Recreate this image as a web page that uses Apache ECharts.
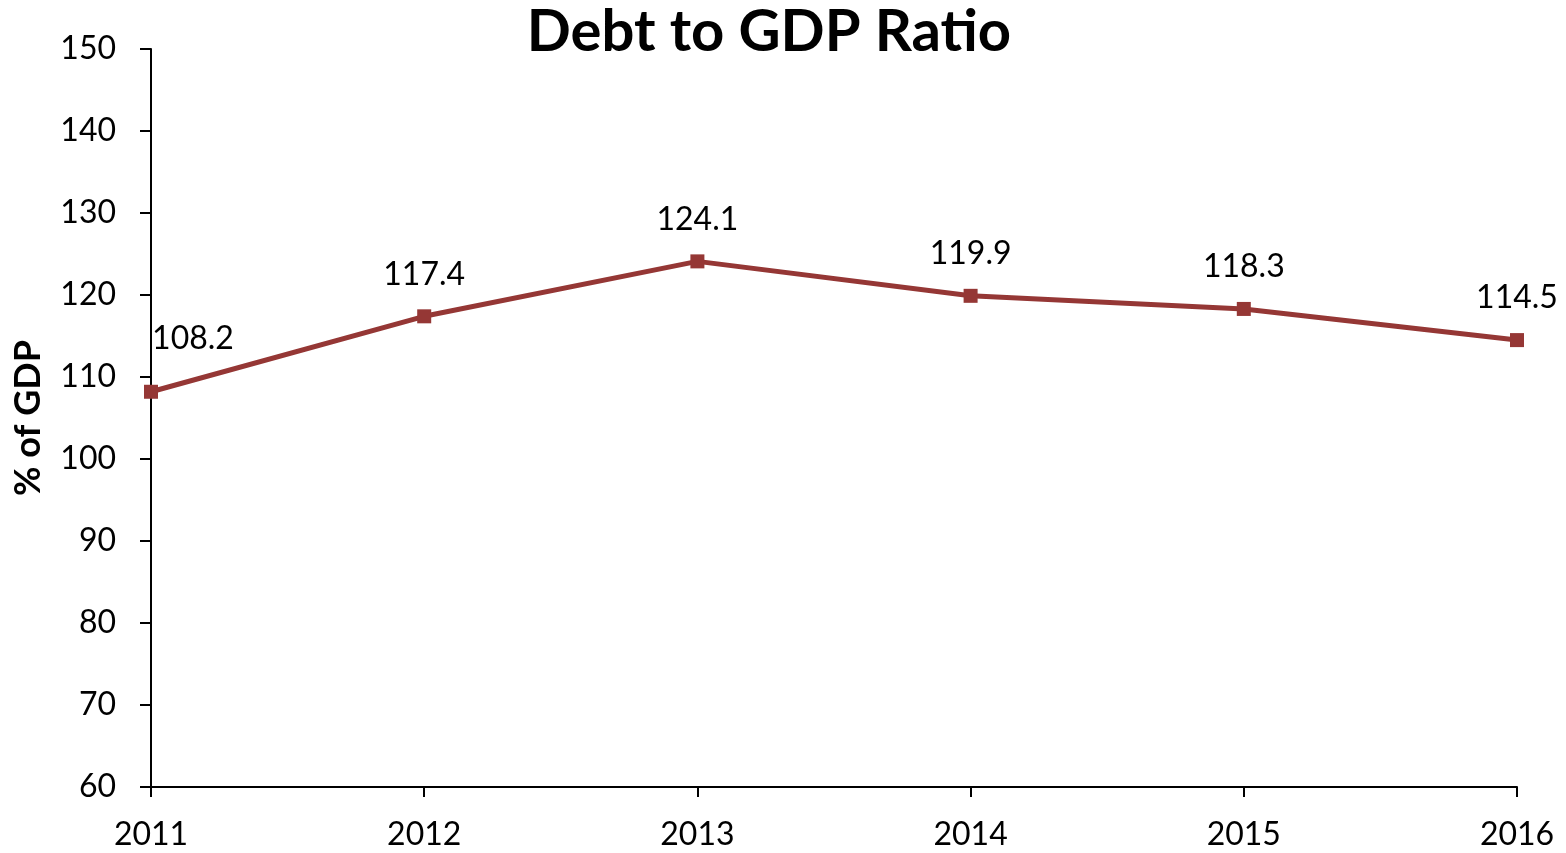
<!DOCTYPE html>
<html><head><meta charset="utf-8">
<script src="https://cdn.jsdelivr.net/npm/echarts@6/dist/echarts.min.js"></script>
<style>html,body{margin:0;padding:0;background:#fff}#c{width:1566px;height:853px}</style>
</head><body><div id="c"></div>
<script>
const years = ['2011','2012','2013','2014','2015','2016'];
const debtRatio = [108.2, 117.4, 124.1, 119.9, 118.3, 114.5];
const titleText = 'Debt to GDP Ratio';
const yAxisName = '% of GDP';

const FONT = 'Lato';
const chart = echarts.init(document.getElementById('c'), null, {renderer:'canvas'});
chart.setOption({
  backgroundColor:'#ffffff',
  animation:false,
  title:{text:titleText,left:764,top:-2,textAlign:'center',
    textStyle:{fontFamily:FONT,fontWeight:'bold',fontSize:58,color:'#000'}},
  grid:{left:151,right:49,top:49,bottom:66,containLabel:false},
  xAxis:{type:'category',data:years,boundaryGap:false,
    axisLine:{lineStyle:{color:'#000',width:2}},
    axisTick:{show:true,alignWithLabel:true,length:10,inside:false,lineStyle:{color:'#000',width:2}},
    axisLabel:{fontFamily:FONT,fontSize:32,color:'#000',margin:32},
    splitLine:{show:false}},
  yAxis:{type:'value',min:60,max:150,interval:10,
    name:yAxisName,nameLocation:'middle',nameGap:105,nameRotate:90,
    nameTextStyle:{fontFamily:FONT,fontWeight:'bold',fontSize:36,color:'#000'},
    axisLine:{show:true,lineStyle:{color:'#000',width:2}},
    axisTick:{show:true,length:11,lineStyle:{color:'#000',width:2}},
    axisLabel:{fontFamily:FONT,fontSize:32,color:'#000',margin:35},
    splitLine:{show:false}},
  series:[{type:'line',data:debtRatio.map((v,i)=>i===0?{value:v,label:{offset:[42,-11]}}:v),
    symbol:'rect',symbolSize:14,
    lineStyle:{color:'#953735',width:5},
    itemStyle:{color:'#953735'},
    label:{show:true,position:'top',distance:19,fontFamily:FONT,fontSize:32,color:'#000',
      formatter:p=>p.value.toFixed(1)}}]
});
</script></body></html>
